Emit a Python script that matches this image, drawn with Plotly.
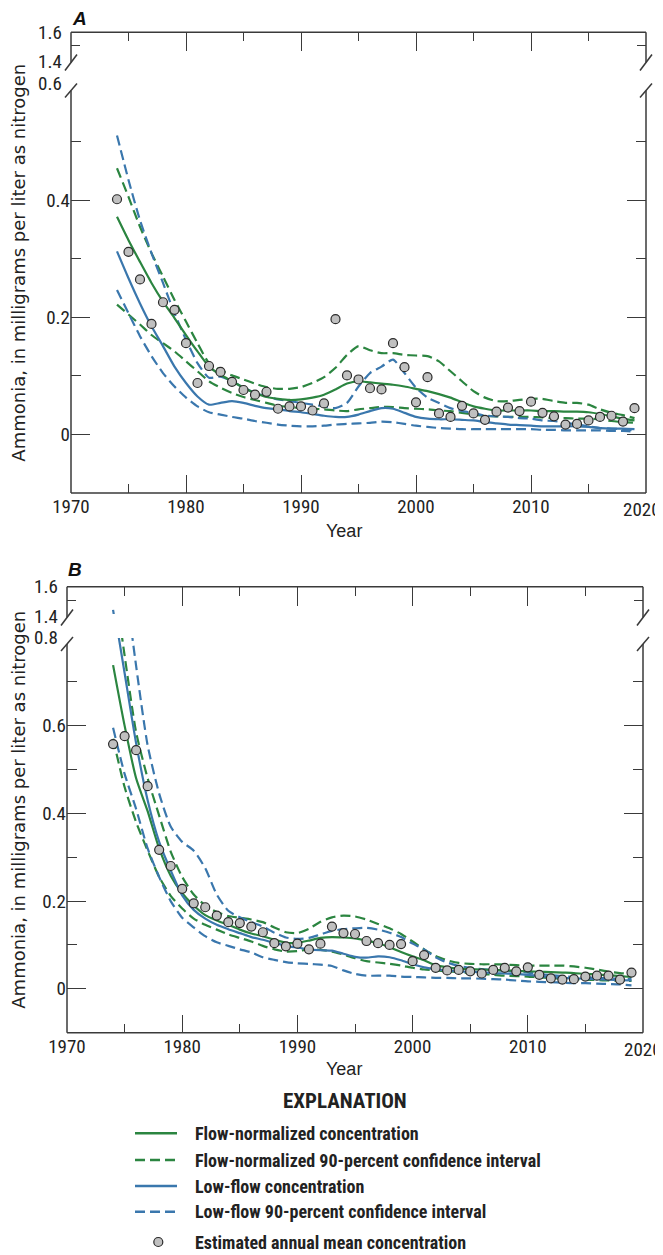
import plotly.graph_objects as go

# page geometry: the browser adds an 8px body margin, so the figure sits at (8, 8)
OX, OY = 8, 8
FW, FH = 655, 1247

years = list(range(1974, 2020))

# ---------------- Panel A ----------------
a_points = [0.402, 0.312, 0.265, 0.189, 0.226, 0.213, 0.156, 0.088, 0.117, 0.107,
            0.090, 0.076, 0.068, 0.073, 0.044, 0.048, 0.048, 0.041, 0.053, 0.197,
            0.101, 0.094, 0.079, 0.077, 0.156, 0.115, 0.055, 0.098, 0.036, 0.030,
            0.049, 0.036, 0.025, 0.039, 0.046, 0.040, 0.056, 0.037, 0.031, 0.017,
            0.018, 0.024, 0.030, 0.032, 0.022, 0.045]
a_fn = [0.372, 0.332, 0.295, 0.259, 0.227, 0.199, 0.170, 0.142, 0.116, 0.102,
        0.091, 0.080, 0.071, 0.064, 0.061, 0.059, 0.060, 0.063, 0.068, 0.077,
        0.087, 0.091, 0.089, 0.087, 0.085, 0.082, 0.078, 0.074, 0.069, 0.063,
        0.055, 0.048, 0.044, 0.041, 0.041, 0.041, 0.041, 0.040, 0.040, 0.039,
        0.039, 0.038, 0.035, 0.031, 0.027, 0.024]
a_fn_hi = [0.455, 0.406, 0.355, 0.310, 0.270, 0.230, 0.193, 0.156, 0.122, 0.110,
           0.101, 0.094, 0.087, 0.081, 0.078, 0.078, 0.081, 0.088, 0.098, 0.114,
           0.136, 0.151, 0.144, 0.139, 0.139, 0.136, 0.135, 0.134, 0.125, 0.108,
           0.091, 0.074, 0.063, 0.057, 0.057, 0.059, 0.061, 0.061, 0.057, 0.054,
           0.054, 0.051, 0.043, 0.037, 0.033, 0.028]
a_fn_lo = [0.222, 0.205, 0.188, 0.170, 0.156, 0.142, 0.125, 0.108, 0.091, 0.080,
           0.071, 0.064, 0.059, 0.054, 0.049, 0.047, 0.045, 0.044, 0.043, 0.041,
           0.040, 0.043, 0.045, 0.047, 0.047, 0.045, 0.044, 0.043, 0.041, 0.040,
           0.037, 0.034, 0.032, 0.031, 0.030, 0.030, 0.030, 0.029, 0.028, 0.028,
           0.027, 0.027, 0.026, 0.023, 0.021, 0.020]
a_lf = [0.313, 0.267, 0.224, 0.185, 0.151, 0.116, 0.088, 0.065, 0.051, 0.054,
        0.057, 0.054, 0.049, 0.045, 0.043, 0.040, 0.038, 0.035, 0.032, 0.030,
        0.030, 0.034, 0.040, 0.045, 0.044, 0.037, 0.030, 0.027, 0.026, 0.026,
        0.025, 0.024, 0.021, 0.019, 0.017, 0.016, 0.015, 0.014, 0.014, 0.014,
        0.014, 0.013, 0.011, 0.010, 0.010, 0.009]
a_lf_hi = [0.511, 0.435, 0.366, 0.310, 0.259, 0.207, 0.162, 0.122, 0.097, 0.099,
           0.091, 0.080, 0.071, 0.065, 0.060, 0.057, 0.054, 0.051, 0.048, 0.045,
           0.054, 0.082, 0.105, 0.116, 0.128, 0.105, 0.080, 0.063, 0.054, 0.045,
           0.040, 0.037, 0.032, 0.031, 0.030, 0.028, 0.027, 0.024, 0.023, 0.020,
           0.017, 0.014, 0.011, 0.010, 0.009, 0.007]
a_lf_lo = [0.247, 0.207, 0.168, 0.134, 0.105, 0.082, 0.063, 0.048, 0.038, 0.034,
           0.030, 0.027, 0.023, 0.020, 0.017, 0.015, 0.014, 0.014, 0.015, 0.017,
           0.018, 0.019, 0.020, 0.022, 0.021, 0.018, 0.015, 0.013, 0.011, 0.010,
           0.009, 0.009, 0.009, 0.009, 0.009, 0.009, 0.009, 0.008, 0.008, 0.007,
           0.007, 0.007, 0.007, 0.006, 0.006, 0.005]

# ---------------- Panel B ----------------
b_points = [0.558, 0.576, 0.544, 0.462, 0.317, 0.280, 0.228, 0.195, 0.186, 0.167,
            0.152, 0.150, 0.142, 0.129, 0.104, 0.097, 0.103, 0.090, 0.103, 0.142,
            0.127, 0.125, 0.109, 0.104, 0.100, 0.102, 0.063, 0.077, 0.048, 0.042,
            0.043, 0.040, 0.035, 0.043, 0.048, 0.040, 0.049, 0.032, 0.024, 0.021,
            0.022, 0.028, 0.030, 0.030, 0.021, 0.037]
b_fn = [0.738, 0.600, 0.480, 0.405, 0.320, 0.258, 0.218, 0.190, 0.168, 0.156,
        0.146, 0.135, 0.126, 0.120, 0.112, 0.105, 0.105, 0.110, 0.116, 0.118,
        0.117, 0.115, 0.110, 0.104, 0.095, 0.084, 0.074, 0.065, 0.054, 0.049,
        0.046, 0.045, 0.044, 0.043, 0.042, 0.041, 0.040, 0.039, 0.038, 0.037,
        0.036, 0.034, 0.033, 0.031, 0.029, 0.027]
b_fn_hi = [0.950, 0.760, 0.585, 0.480, 0.395, 0.313, 0.255, 0.215, 0.190, 0.175,
           0.166, 0.162, 0.158, 0.152, 0.140, 0.129, 0.127, 0.137, 0.153, 0.163,
           0.167, 0.165, 0.158, 0.148, 0.138, 0.125, 0.108, 0.090, 0.075, 0.065,
           0.059, 0.057, 0.056, 0.056, 0.055, 0.054, 0.053, 0.053, 0.053, 0.053,
           0.051, 0.048, 0.044, 0.039, 0.036, 0.034]
b_fn_lo = [0.570, 0.460, 0.380, 0.315, 0.255, 0.212, 0.183, 0.160, 0.146, 0.135,
           0.124, 0.116, 0.108, 0.098, 0.090, 0.085, 0.086, 0.090, 0.089, 0.085,
           0.078, 0.070, 0.063, 0.060, 0.057, 0.053, 0.048, 0.044, 0.042, 0.040,
           0.038, 0.036, 0.034, 0.032, 0.030, 0.029, 0.028, 0.026, 0.025, 0.023,
           0.022, 0.021, 0.020, 0.019, 0.018, 0.018]
b_lf = [0.880, 0.720, 0.560, 0.430, 0.335, 0.270, 0.213, 0.180, 0.160, 0.146,
        0.136, 0.127, 0.118, 0.112, 0.105, 0.098, 0.094, 0.090, 0.088, 0.087,
        0.080, 0.073, 0.071, 0.074, 0.072, 0.065, 0.056, 0.049, 0.045, 0.042,
        0.040, 0.039, 0.038, 0.036, 0.035, 0.034, 0.032, 0.029, 0.027, 0.025,
        0.024, 0.023, 0.022, 0.021, 0.020, 0.019]
b_lf_hi = [1.430, 0.950, 0.736, 0.555, 0.445, 0.370, 0.335, 0.315, 0.275, 0.215,
           0.178, 0.163, 0.152, 0.142, 0.128, 0.117, 0.114, 0.116, 0.124, 0.132,
           0.136, 0.138, 0.139, 0.135, 0.128, 0.118, 0.103, 0.090, 0.072, 0.060,
           0.052, 0.048, 0.045, 0.043, 0.041, 0.039, 0.037, 0.034, 0.031, 0.029,
           0.027, 0.026, 0.025, 0.024, 0.023, 0.022]
b_lf_lo = [0.595, 0.490, 0.410, 0.320, 0.255, 0.200, 0.162, 0.140, 0.120, 0.106,
           0.098, 0.090, 0.083, 0.072, 0.066, 0.061, 0.058, 0.057, 0.055, 0.052,
           0.042, 0.034, 0.030, 0.030, 0.030, 0.028, 0.027, 0.026, 0.025, 0.025,
           0.024, 0.024, 0.023, 0.022, 0.021, 0.019, 0.017, 0.016, 0.015, 0.014,
           0.013, 0.013, 0.012, 0.011, 0.010, 0.008]

x_tick_years = [1970, 1980, 1990, 2000, 2010, 2020]
x_minor_years = [1975, 1985, 1995, 2005, 2015]

legend_labels = ["Flow-normalized concentration",
                 "Flow-normalized 90-percent confidence interval",
                 "Low-flow concentration",
                 "Low-flow 90-percent confidence interval",
                 "Estimated annual mean concentration"]
y_title = "Ammonia, in milligrams per liter as nitrogen"

GREEN = "#2b8540"
BLUE = "#3a77ad"
AX = "#3a3a3a"
PT_FILL = "#c0c0c0"
NARROW = "Liberation Sans Narrow, Arial Narrow, Roboto Condensed, Liberation Sans, sans-serif"
REG = "Liberation Sans, Arial, sans-serif"
WIDE = "DejaVu Sans, Liberation Sans, sans-serif"
TICK_SIZE = 19


def fx(px):
    return (px - OX) / FW


def fy(py):
    return 1 - (py - OY) / FH


panels = [
    dict(label="A", xl=71, xr=646, ytop=32.3, ybrk=59.0, mtop=83.4, bottom=493.0,
         ymax=0.6, yt=[0, 0.2, 0.4], ym=[0.1, 0.3, 0.5], toplab="0.6", lab_y=19,
         brk_main=7.0, year_y=531, ax=("x", "y", "x2", "y2"), keys=("xaxis", "yaxis", "xaxis2", "yaxis2"),
         pts=a_points, fn=a_fn, fn_hi=a_fn_hi, fn_lo=a_fn_lo, lf=a_lf, lf_hi=a_lf_hi, lf_lo=a_lf_lo),
    dict(label="B", xl=67, xr=643, ytop=586.7, ybrk=614.0, mtop=637.9, bottom=1032.7,
         ymax=0.8, yt=[0, 0.2, 0.4, 0.6], ym=[0.1, 0.3, 0.5, 0.7], toplab="0.8", lab_y=569,
         brk_main=6.0, year_y=1069, ax=("x3", "y3", "x4", "y4"), keys=("xaxis3", "yaxis3", "xaxis4", "yaxis4"),
         pts=b_points, fn=b_fn, fn_hi=b_fn_hi, fn_lo=b_fn_lo, lf=b_lf, lf_hi=b_lf_hi, lf_lo=b_lf_lo),
]

fig = go.Figure()
shapes = []
annotations = []

line_specs = [
    ("fn_hi", GREEN, "dash"), ("fn_lo", GREEN, "dash"),
    ("lf_hi", BLUE, "dash"), ("lf_lo", BLUE, "dash"),
    ("fn", GREEN, "solid"), ("lf", BLUE, "solid"),
]

for p in panels:
    xm, ym_, xt, yt_ = p["ax"]
    for (xa, ya) in [(xm, ym_), (xt, yt_)]:
        for key, col, dash in line_specs:
            fig.add_trace(go.Scatter(
                x=years, y=p[key], mode="lines", xaxis=xa, yaxis=ya,
                line=dict(color=col, width=2.2, dash="10px,5px" if dash == "dash" else "solid",
                          shape="spline", smoothing=0.6),
                showlegend=False, hoverinfo="skip"))
        fig.add_trace(go.Scatter(
            x=years, y=p["pts"], mode="markers", xaxis=xa, yaxis=ya,
            marker=dict(size=9, color=PT_FILL, line=dict(color="#2a2a2a", width=1.2)),
            showlegend=False, hoverinfo="skip"))

    kx, ky, kx2, ky2 = p["keys"]
    xdom = [fx(p["xl"]), fx(p["xr"])]
    common_x = dict(domain=xdom, range=[1970, 2020], showgrid=False, zeroline=False,
                    showline=False, ticks="inside", tickcolor=AX, tickwidth=1.3,
                    fixedrange=True, automargin=False)
    # last label (2020) is added separately so it stays inside the page
    fig.layout[kx] = dict(common_x, anchor=ym_, tickvals=x_tick_years,
                          ticktext=[str(v) for v in x_tick_years[:-1]] + [""], ticklen=18,
                          tickfont=dict(family=NARROW, size=TICK_SIZE, color="#222"),
                          minor=dict(tickvals=x_minor_years, ticklen=9, ticks="inside",
                                     tickcolor=AX, tickwidth=1.3))
    annotations.append(dict(text=str(x_tick_years[-1]), xref=xm, yref="paper",
                            x=x_tick_years[-1], y=fy(p["bottom"] + 3), xanchor="center",
                            yanchor="top", xshift=-4 if p["label"] == "A" else 0,
                            showarrow=False,
                            font=dict(family=NARROW, size=TICK_SIZE, color="#222")))
    fig.layout[kx2] = dict(common_x, anchor=yt_, side="top", matches=xm,
                           tickvals=x_tick_years[1:-1], showticklabels=False, ticklen=19,
                           minor=dict(tickvals=x_minor_years, ticklen=9, ticks="inside",
                                      tickcolor=AX, tickwidth=1.3))
    fig.layout[ky] = dict(domain=[fy(p["bottom"]), fy(p["mtop"])], range=[-0.1, p["ymax"]],
                          anchor=xm, showgrid=False, zeroline=False, showline=False,
                          ticks="inside", ticklen=19, tickcolor=AX, tickwidth=1.3,
                          mirror="ticks", tickvals=p["yt"],
                          ticktext=["0" if v == 0 else f"{v:.1f}" for v in p["yt"]],
                          tickfont=dict(family=NARROW, size=TICK_SIZE, color="#222"),
                          minor=dict(tickvals=p["ym"], ticklen=10, ticks="inside",
                                     tickcolor=AX, tickwidth=1.3),
                          fixedrange=True, automargin=False)
    fig.layout[ky2] = dict(domain=[fy(p["ybrk"]), fy(p["ytop"])], range=[1.4, 1.6],
                           anchor=xt, showgrid=False, zeroline=False, showline=False,
                           ticks="inside", ticklen=9, tickcolor=AX, tickwidth=1.3,
                           mirror="ticks", tickvals=[1.5], ticktext=[""],
                           fixedrange=True, automargin=False)

    xl, xr = p["xl"], p["xr"]
    lw = dict(color=AX, width=1.5)

    def seg(x0, y0, x1, y1):
        shapes.append(dict(type="line", xref="paper", yref="paper",
                           x0=fx(x0), y0=fy(y0), x1=fx(x1), y1=fy(y1), line=lw))

    brk_top = p["ybrk"] + 3.5
    brk_main = p["mtop"] + p["brk_main"]
    for xa in (xl, xr):
        seg(xa, p["ytop"], xa, brk_top)
        seg(xa, brk_main, xa, p["bottom"])
        seg(xa - 6, brk_top + 8, xa + 6, brk_top - 8)
        seg(xa - 6, brk_main + 7, xa + 6, brk_main - 7)
    seg(xl, p["ytop"], xr, p["ytop"])
    seg(xl, p["bottom"], xr, p["bottom"])

    def lab(text, py):
        annotations.append(dict(text=text, xref="paper", yref="paper", x=fx(xl - 7), y=fy(py),
                                xanchor="right", yanchor="middle", showarrow=False,
                                font=dict(family=NARROW, size=TICK_SIZE, color="#222")))

    lab("1.6", p["ytop"])
    lab("1.4", p["ybrk"] + 2)
    lab(p["toplab"], p["mtop"])

    annotations.append(dict(text=f"<b><i>{p['label']}</i></b>", xref="paper", yref="paper",
                            x=fx(xl - 1), y=fy(p["lab_y"]), xanchor="left", yanchor="middle",
                            showarrow=False, font=dict(family=REG, size=19, color="#111")))
    annotations.append(dict(text="Year", xref="paper", yref="paper", x=fx(344), y=fy(p["year_y"]),
                            xanchor="center", yanchor="middle", showarrow=False,
                            font=dict(family=REG, size=18, color="#222")))
    annotations.append(dict(text=y_title, xref="paper", yref="paper", x=fx(19),
                            y=fy((p["ytop"] + p["bottom"]) / 2), textangle=-90,
                            xanchor="center", yanchor="middle", showarrow=False,
                            font=dict(family=WIDE, size=18, color="#222")))

# ---------------- Explanation (legend) ----------------
annotations.append(dict(text="<b>EXPLANATION</b>", xref="paper", yref="paper", x=fx(345), y=fy(1101),
                        xanchor="center", yanchor="middle", showarrow=False,
                        font=dict(family=NARROW, size=21, color="#222")))
leg_rows = [1133.3, 1160, 1186, 1211.7, 1242]
leg_styles = [(GREEN, "solid"), (GREEN, "dash"), (BLUE, "solid"), (BLUE, "dash"), None]
for lbl, yy, st in zip(legend_labels, leg_rows, leg_styles):
    if st is not None:
        col, dash = st
        shapes.append(dict(type="line", xref="paper", yref="paper", x0=fx(135), x1=fx(177),
                           y0=fy(yy), y1=fy(yy),
                           line=dict(color=col, width=2.4, dash="10px,5px" if dash == "dash" else "solid")))
    else:
        shapes.append(dict(type="circle", xref="paper", yref="paper",
                           x0=fx(158.3 - 4.5), x1=fx(158.3 + 4.5), y0=fy(yy - 4.5), y1=fy(yy + 4.5),
                           fillcolor=PT_FILL, line=dict(color="#2a2a2a", width=1.2)))
    annotations.append(dict(text=f"<b>{lbl}</b>", xref="paper", yref="paper", x=fx(192.5), y=fy(yy),
                            xanchor="left", yanchor="middle", showarrow=False,
                            font=dict(family=NARROW, size=18, color="#222")))

fig.update_layout(template="none", width=FW, height=FH, margin=dict(l=0, r=0, t=0, b=0, pad=0),
                  paper_bgcolor="white", plot_bgcolor="white",
                  shapes=shapes, annotations=annotations, showlegend=False)

fig.write_html("out.html")
